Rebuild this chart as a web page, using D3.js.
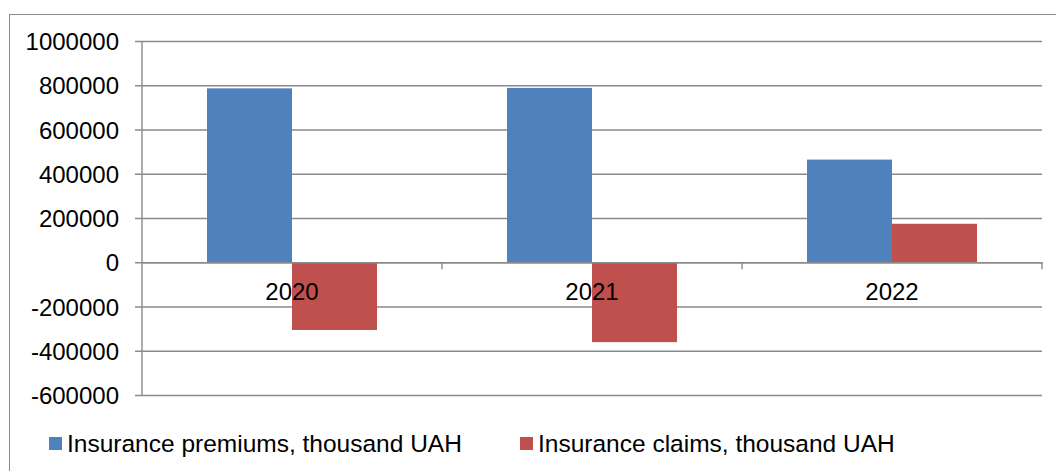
<!DOCTYPE html>
<html>
<head>
<meta charset="utf-8">
<script src="https://cdn.jsdelivr.net/npm/d3@7"></script>
<style>
  html, body { margin: 0; padding: 0; background: #fff; }
  svg { display: block; font-family: "Liberation Sans", Arial, sans-serif; }
</style>
</head>
<body>
<div id="canvas"></div>
<script>
// Chart data
var years = ['2020', '2021', '2022'];
var seriesNames = ['Insurance premiums, thousand UAH', 'Insurance claims, thousand UAH'];
var premiums = [786000, 788000, 464000];
var claims = [-306000, -361000, 174000];
var yTicks = [1000000, 800000, 600000, 400000, 200000, 0, -200000, -400000, -600000];

var colors = ['#4f81bd', '#c0504d'],
	gridColor = '#8a8a8a',
	fontSize = 24,
	width = 1056,
	height = 471,
	plot = { left: 142, right: 1042, top: 41, bottom: 395 };

var svg = d3.select('#canvas').append('svg')
	.attr('width', width)
	.attr('height', height);

// outer frame (runs off the right and bottom edge)
svg.append('rect')
	.attr('x', 9.5).attr('y', 14.5)
	.attr('width', width + 10).attr('height', height + 10)
	.attr('fill', 'none')
	.attr('stroke', '#8c8c8c')
	.attr('stroke-width', 1);

var y = d3.scaleLinear()
	.domain([-600000, 1000000])
	.range([plot.bottom, plot.top]);

var x0 = d3.scaleBand()
	.domain(years)
	.range([plot.left, plot.right])
	.paddingInner(130 / 300)
	.paddingOuter(65 / 300);

var x1 = d3.scaleBand()
	.domain([0, 1])
	.range([0, x0.bandwidth()]);

// Gridlines + y ticks
var yAxis = d3.axisLeft(y)
	.tickValues(yTicks)
	.tickSize(-(plot.right - plot.left))
	.tickSizeOuter(0)
	.tickFormat(function(d) { return String(d); });

var gy = svg.append('g')
	.attr('transform', 'translate(' + plot.left + ',0)')
	.call(yAxis);
gy.select('.domain').remove();
gy.selectAll('.tick line')
	.attr('x1', -7)
	.attr('stroke', gridColor)
	.attr('stroke-width', 1.4);
gy.selectAll('.tick text')
	.attr('fill', '#000')
	.attr('font-size', fontSize)
	.attr('x', -23)
	.attr('dy', '0.36em');

// vertical axis line
svg.append('line')
	.attr('x1', plot.left).attr('x2', plot.left)
	.attr('y1', plot.top).attr('y2', plot.bottom)
	.attr('stroke', gridColor)
	.attr('stroke-width', 1.4);

// Bars
var rows = years.map(function(yr, i) {
	return { year: yr, values: [premiums[i], claims[i]] };
});

var groups = svg.selectAll('g.year')
	.data(rows)
	.enter()
	.append('g')
	.attr('class', 'year')
	.attr('transform', function(d) { return 'translate(' + x0(d.year) + ',0)'; });

groups.selectAll('rect')
	.data(function(d) { return d.values; })
	.enter()
	.append('rect')
	.attr('x', function(d, i) { return x1(i); })
	.attr('width', x1.bandwidth())
	.attr('y', function(d) { return y(Math.max(0, d)); })
	.attr('height', function(d) { return Math.abs(y(d) - y(0)); })
	.attr('fill', function(d, i) { return colors[i]; });

// x axis at zero
var xAxis = d3.axisBottom(x0)
	.tickSize(0)
	.tickSizeOuter(0)
	.tickPadding(0);

var gx = svg.append('g')
	.attr('transform', 'translate(0,' + y(0) + ')')
	.call(xAxis);
gx.select('.domain')
	.attr('stroke', gridColor)
	.attr('stroke-width', 1.4);
gx.selectAll('.tick text')
	.attr('fill', '#000')
	.attr('font-size', fontSize)
	.attr('dy', '1.58em');

// category separators
var seps = years.map(function(yr) { return x0(yr) + x0.bandwidth() + x0.step() * x0.paddingOuter(); });
gx.selectAll('line.sep')
	.data(seps)
	.enter()
	.append('line')
	.attr('class', 'sep')
	.attr('x1', function(d) { return d; })
	.attr('x2', function(d) { return d; })
	.attr('y1', 0)
	.attr('y2', 7)
	.attr('stroke', gridColor)
	.attr('stroke-width', 1.4);

// Legend
var legendX = [49, 520];
var legend = svg.selectAll('g.legend')
	.data(seriesNames)
	.enter()
	.append('g')
	.attr('class', 'legend')
	.attr('transform', function(d, i) { return 'translate(' + legendX[i] + ',437)'; });

legend.append('rect')
	.attr('width', 13)
	.attr('height', 13)
	.attr('fill', function(d, i) { return colors[i]; });

legend.append('text')
	.attr('x', 18)
	.attr('y', 15)
	.attr('font-size', 24.5)
	.attr('fill', '#000')
	.text(function(d) { return d; });
</script>
</body>
</html>
